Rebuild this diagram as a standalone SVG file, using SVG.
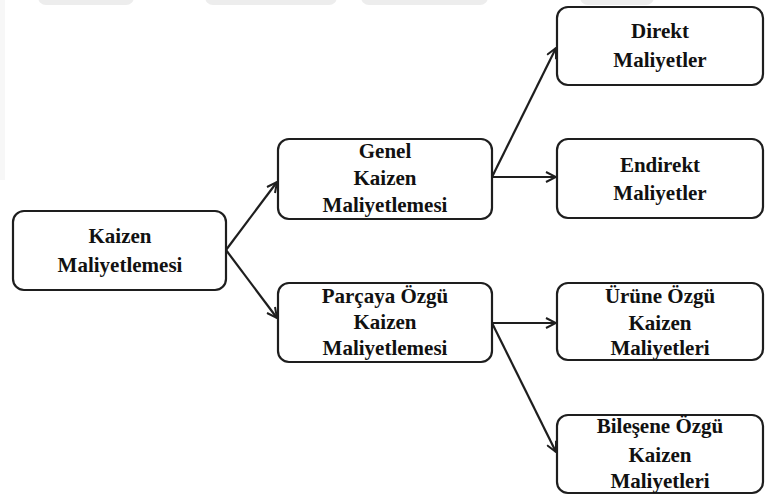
<svg xmlns="http://www.w3.org/2000/svg" width="765" height="498" viewBox="0 0 765 498">
  <style>
    .box { fill: #ffffff; stroke: #1e1e1e; stroke-width: 2.2; }
    .lbl { font-family: "Liberation Serif", "Times New Roman", serif; font-weight: bold; font-size: 21px; fill: #111111; text-anchor: middle; }
    .edge { fill: none; stroke: #1e1e1e; stroke-width: 2.2; }
    .mark { fill: #ededed; }
  </style>
  <defs>
    <marker id="arrow" viewBox="0 0 12 12" refX="11" refY="6" markerWidth="12" markerHeight="12" markerUnits="userSpaceOnUse" orient="auto">
      <path d="M1,1 L11,6 L1,11" fill="none" stroke="#1e1e1e" stroke-width="2"/>
    </marker>
  </defs>

  <rect width="765" height="498" fill="#ffffff"/>

  <!-- faint background band along the top and left edge -->
  <g id="backdrop">
    <rect class="mark" x="38" y="-12" width="96" height="17" rx="8"/>
    <rect class="mark" x="205" y="-12" width="132" height="17" rx="8"/>
    <rect class="mark" x="361" y="-12" width="127" height="17" rx="8"/>
    <rect class="mark" x="580" y="-12" width="74" height="17" rx="8"/>
    <rect x="0" y="0" width="5" height="180" fill="#f7f7f7"/>
  </g>

  <g id="connectors">
    <line class="edge" x1="226" y1="250" x2="277" y2="182" marker-end="url(#arrow)"/>
    <line class="edge" x1="226" y1="250" x2="277" y2="318" marker-end="url(#arrow)"/>
    <line class="edge" x1="492" y1="177" x2="556" y2="48" marker-end="url(#arrow)"/>
    <line class="edge" x1="492" y1="177" x2="556" y2="177" marker-end="url(#arrow)"/>
    <line class="edge" x1="492" y1="323" x2="556" y2="323" marker-end="url(#arrow)"/>
    <line class="edge" x1="492" y1="323" x2="556" y2="452" marker-end="url(#arrow)"/>
  </g>

  <g id="kaizen-maliyetlemesi">
    <rect class="box" x="13" y="211" width="213" height="79" rx="11"/>
    <text class="lbl" x="120" y="243">Kaizen</text>
    <text class="lbl" x="120" y="272">Maliyetlemesi</text>
  </g>

  <g id="genel-kaizen">
    <rect class="box" x="278" y="139" width="214" height="80" rx="11"/>
    <text class="lbl" x="385" y="158">Genel</text>
    <text class="lbl" x="385" y="185">Kaizen</text>
    <text class="lbl" x="385" y="212">Maliyetlemesi</text>
  </g>

  <g id="parcaya-ozgu-kaizen">
    <rect class="box" x="278" y="283" width="214" height="79" rx="11"/>
    <text class="lbl" x="385" y="303">Parçaya Özgü</text>
    <text class="lbl" x="385" y="329">Kaizen</text>
    <text class="lbl" x="385" y="355">Maliyetlemesi</text>
  </g>

  <g id="direkt-maliyetler">
    <rect class="box" x="557" y="7" width="206" height="78" rx="11"/>
    <text class="lbl" x="660" y="38">Direkt</text>
    <text class="lbl" x="660" y="67">Maliyetler</text>
  </g>

  <g id="endirekt-maliyetler">
    <rect class="box" x="557" y="139" width="206" height="79" rx="11"/>
    <text class="lbl" x="660" y="172">Endirekt</text>
    <text class="lbl" x="660" y="200">Maliyetler</text>
  </g>

  <g id="urune-ozgu-kaizen">
    <rect class="box" x="557" y="283" width="206" height="77" rx="11"/>
    <text class="lbl" x="660" y="303">Ürüne Özgü</text>
    <text class="lbl" x="660" y="330">Kaizen</text>
    <text class="lbl" x="660" y="355">Maliyetleri</text>
  </g>

  <g id="bilesene-ozgu-kaizen">
    <rect class="box" x="557" y="415" width="206" height="78" rx="11"/>
    <text class="lbl" x="660" y="433">Bileşene Özgü</text>
    <text class="lbl" x="660" y="462">Kaizen</text>
    <text class="lbl" x="660" y="488">Maliyetleri</text>
  </g>
</svg>
